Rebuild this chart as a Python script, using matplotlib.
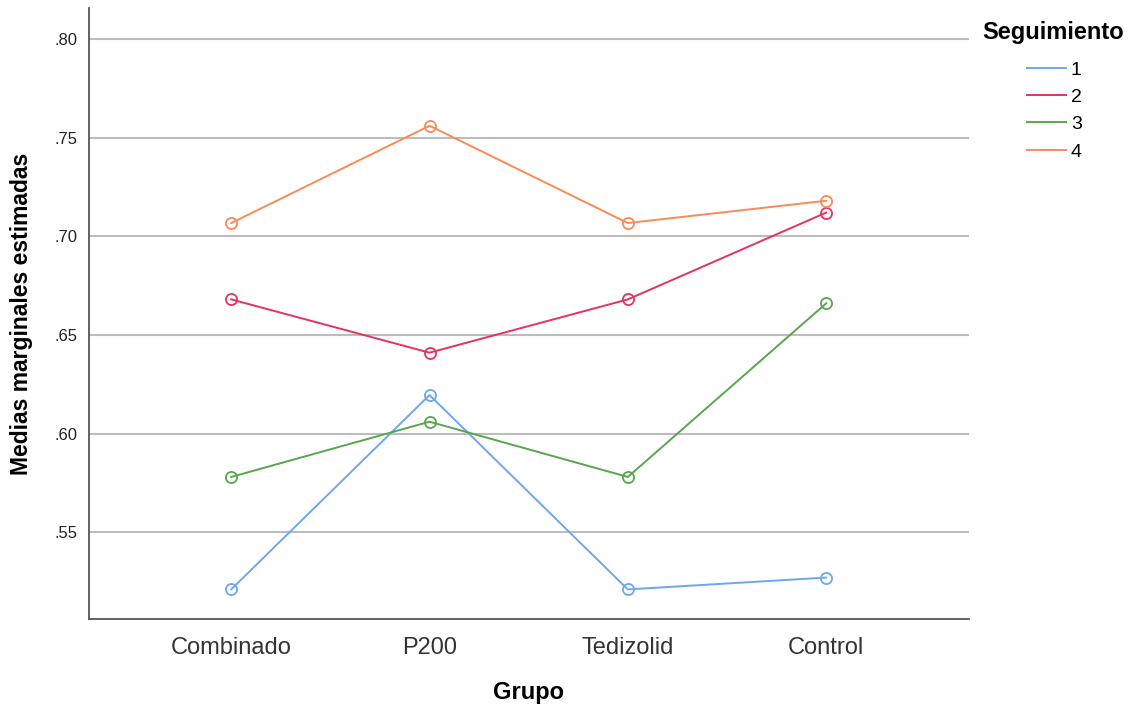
import matplotlib.pyplot as plt

plt.rcParams['font.family'] = ['Liberation Sans', 'DejaVu Sans']

grupos = ['Combinado', 'P200', 'Tedizolid', 'Control']
seguimientos = ['1', '2', '3', '4']
medias_1 = [0.521, 0.6195, 0.521, 0.527]
medias_2 = [0.668, 0.641, 0.668, 0.712]
medias_3 = [0.578, 0.606, 0.578, 0.666]
medias_4 = [0.7067, 0.756, 0.7067, 0.718]
series = [medias_1, medias_2, medias_3, medias_4]
colores = ['#6fa6ee', '#e5335c', '#5aa54f', '#fb8a57']

fig = plt.figure(figsize=(11.37, 7.1), dpi=100)
ax = fig.add_axes([89 / 1137, 91 / 710, 880 / 1137, 611 / 710])

x = list(range(len(grupos)))
lines = []
for vals, lab, c in zip(series, seguimientos, colores):
    ln, = ax.plot(x, vals, color=c, lw=1.4, marker='o', ms=8, mfc='none', mec=c,
                  mew=1.3, label=lab, zorder=3)
    lines.append(ln)

ax.set_xlim(-0.717, 3.72)
ax.set_ylim(0.506, 0.8157)
ax.set_yticks([0.55, 0.60, 0.65, 0.70, 0.75, 0.80])
ax.set_yticklabels(['.55', '.60', '.65', '.70', '.75', '.80'], fontsize=12, color='#222222')
ax.set_xticks(x)
ax.set_xticklabels(grupos, fontsize=17, color='#333333')
ax.tick_params(axis='x', length=0, pad=13)
ax.tick_params(axis='y', length=0, pad=8)
ax.yaxis.grid(True, color='#bdbdbd', lw=1.5, zorder=1)
ax.set_axisbelow(True)
for s in ['top', 'right']:
    ax.spines[s].set_visible(False)
for s in ['left', 'bottom']:
    ax.spines[s].set_color('#555555')
    ax.spines[s].set_linewidth(1.3)

ax.set_xlabel('Grupo', fontsize=17, fontweight='bold', va='center')
ax.set_ylabel('Medias marginales estimadas', fontsize=16.5, fontweight='bold', va='center')
ax.xaxis.set_label_coords(0.5, (619 - 693) / 611)
ax.yaxis.set_label_coords((22 - 89) / 880, 0.5)

fig.text(982 / 1137, 1 - 33 / 710, 'Seguimiento', fontsize=17, fontweight='bold',
         ha='left', va='center')
leg = fig.legend(handles=lines, labels=seguimientos, loc='upper left',
                 bbox_to_anchor=(1027 / 1137, 1 - 61 / 710), frameon=False,
                 fontsize=14, handlelength=2.0, handletextpad=0.25, labelspacing=0.5,
                 borderpad=0, borderaxespad=0)
for h in leg.legend_handles:
    h.set_marker('')

fig.savefig('out.png', dpi=100)
